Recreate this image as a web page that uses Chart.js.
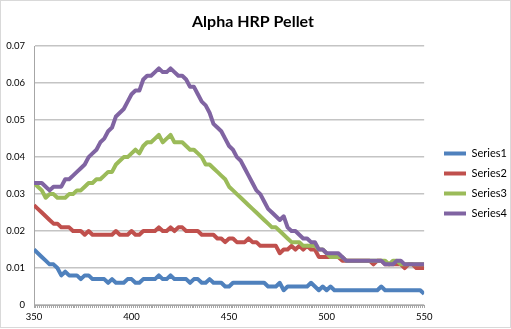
<!DOCTYPE html>
<html>
<head>
<meta charset="utf-8">
<title>Alpha HRP Pellet</title>
<script src="https://cdn.jsdelivr.net/npm/chart.js@4.4.0/dist/chart.umd.min.js"></script>
<style>
  html, body { margin: 0; padding: 0; background: #fff; }
  #Chart { display: block; }
</style>
</head>
<body>
<canvas id="Chart" width="511" height="329"></canvas>
<script>
// wavelength (nm), read every 2 nm
const wavelengths = [
  350, 352, 354, 356, 358, 360, 362, 364, 366, 368,
  370, 372, 374, 376, 378, 380, 382, 384, 386, 388,
  390, 392, 394, 396, 398, 400, 402, 404, 406, 408,
  410, 412, 414, 416, 418, 420, 422, 424, 426, 428,
  430, 432, 434, 436, 438, 440, 442, 444, 446, 448,
  450, 452, 454, 456, 458, 460, 462, 464, 466, 468,
  470, 472, 474, 476, 478, 480, 482, 484, 486, 488,
  490, 492, 494, 496, 498, 500, 502, 504, 506, 508,
  510, 512, 514, 516, 518, 520, 522, 524, 526, 528,
  530, 532, 534, 536, 538, 540, 542, 544, 546, 548,
  550
];

const series1 = [
  .015, .014, .013, .012, .011, .011, .010, .008, .009, .008,
  .008, .008, .007, .008, .008, .007, .007, .007, .007, .006,
  .007, .006, .006, .006, .007, .007, .006, .006, .007, .007,
  .007, .007, .008, .007, .007, .008, .007, .007, .007, .007,
  .006, .007, .007, .006, .006, .007, .006, .006, .006, .005,
  .005, .006, .006, .006, .006, .006, .006, .006, .006, .006,
  .005, .005, .005, .006, .004, .005, .005, .005, .005, .005,
  .005, .006, .005, .004, .005, .004, .005, .004, .004, .004,
  .004, .004, .004, .004, .004, .004, .004, .004, .004, .005,
  .004, .004, .004, .004, .004, .004, .004, .004, .004, .004,
  .003
];

const series2 = [
  .027, .026, .025, .024, .023, .022, .022, .021, .021, .021,
  .020, .020, .020, .019, .020, .019, .019, .019, .019, .019,
  .019, .020, .019, .019, .019, .020, .019, .019, .020, .020,
  .020, .020, .021, .020, .020, .021, .020, .021, .021, .020,
  .020, .020, .020, .019, .019, .019, .019, .018, .018, .017,
  .018, .018, .017, .017, .017, .018, .017, .017, .016, .016,
  .016, .016, .016, .014, .015, .015, .016, .015, .016, .015,
  .016, .015, .015, .013, .013, .013, .013, .013, .013, .012,
  .012, .012, .012, .012, .012, .012, .012, .011, .012, .012,
  .011, .011, .011, .011, .011, .010, .011, .011, .010, .010,
  .010
];

const series3 = [
  .033, .032, .031, .029, .030, .030, .029, .029, .029, .030,
  .030, .031, .031, .032, .033, .033, .034, .034, .035, .036,
  .036, .038, .039, .040, .040, .041, .042, .041, .043, .044,
  .044, .045, .046, .044, .045, .046, .044, .044, .044, .043,
  .042, .042, .041, .040, .038, .038, .037, .036, .035, .034,
  .032, .031, .030, .029, .028, .027, .026, .025, .024, .023,
  .022, .021, .021, .020, .019, .018, .017, .017, .017, .016,
  .016, .016, .016, .015, .015, .014, .013, .013, .013, .013,
  .012, .012, .012, .012, .012, .012, .012, .012, .012, .012,
  .012, .011, .012, .012, .011, .011, .011, .011, .011, .011,
  .011
];

const series4 = [
  .033, .033, .033, .032, .031, .032, .032, .032, .034, .034,
  .035, .036, .037, .038, .040, .041, .042, .044, .045, .047,
  .048, .051, .052, .053, .055, .057, .058, .058, .061, .062,
  .062, .063, .064, .063, .063, .064, .063, .062, .062, .061,
  .059, .059, .057, .055, .054, .052, .049, .048, .047, .045,
  .043, .042, .040, .039, .037, .035, .033, .031, .030, .028,
  .026, .025, .024, .023, .024, .021, .020, .020, .019, .018,
  .018, .017, .017, .015, .015, .014, .014, .014, .014, .013,
  .012, .012, .012, .012, .012, .012, .012, .012, .012, .012,
  .011, .011, .011, .012, .012, .011, .011, .011, .011, .011,
  .011
];

const seriesNames = ['Series1', 'Series2', 'Series3', 'Series4'];
const seriesColors = ['#4F81BD', '#C0504D', '#9BBB59', '#8064A2'];
const allSeries = [series1, series2, series3, series4];

const FONT = 'Lato, "Open Sans", sans-serif';

// white background + thin grey frame like the excel chart object
const frame = {
    id: 'frame',
    beforeDraw(chart) {
        const c = chart.ctx;
        c.save();
        c.fillStyle = '#fff';
        c.fillRect(0, 0, chart.width, chart.height);
        c.strokeStyle = '#d9d9d9';
        c.lineWidth = 1;
        c.strokeRect(0.5, 0.5, chart.width - 1, chart.height - 2);
        c.restore();
    }
};

// move legend column to where excel puts it
const legendShift = {
    id: 'legendShift',
    afterLayout(chart) {
        const lg = chart.legend;
        lg.left = 435;
        lg.right = 511;
        lg.top += 19;
        lg.bottom += 19;
    }
};

const datasets = allSeries.map((s, i) => ({
    label: seriesNames[i],
    data: wavelengths.map((w, j) => ({ x: w, y: s[j] })),
    borderColor: seriesColors[i],
    backgroundColor: seriesColors[i],
    borderWidth: 4,
    pointRadius: 0,
    tension: 0,
    fill: false,
    borderJoinStyle: 'round',
    order: 4 - i   // Series4 on top
}));

const ctx = document.getElementById('Chart').getContext('2d');

const myChart = new Chart(ctx, {
    type: 'line',
    data: { datasets: datasets },
    options: {
        responsive: false,
        animation: false,
        layout: { padding: { left: 0, right: 5, top: 0, bottom: 0 } },
        plugins: {
            title: {
                display: true,
                text: 'Alpha HRP Pellet',
                color: '#000',
                font: { family: FONT, size: 16, weight: 'bold' },
                padding: { top: 12, bottom: 15 }
            },
            legend: {
                position: 'right',
                labels: {
                    color: '#000',
                    font: { family: FONT, size: 11 },
                    usePointStyle: true,
                    pointStyle: 'line',
                    pointStyleWidth: 22,
                    padding: 9,
                    sort: (a, b) => a.datasetIndex - b.datasetIndex
                }
            },
            tooltip: { enabled: false }
        },
        scales: {
            x: {
                type: 'linear',
                min: 350,
                max: 550,
                afterFit: (scale) => { scale.height = 24; },
                ticks: {
                    stepSize: 1,
                    autoSkip: false,
                    maxRotation: 0,
                    padding: 3,
                    color: '#000',
                    font: { family: FONT, size: 9.5 },
                    callback: (v) => (v % 50 === 0 ? String(v) : '')
                },
                grid: {
                    drawOnChartArea: false,
                    drawTicks: true,
                    tickLength: 3,
                    color: '#a6a6a6'
                },
                border: { color: '#a6a6a6' }
            },
            y: {
                min: 0,
                max: 0.07,
                afterFit: (scale) => { scale.width = 34; },
                ticks: {
                    stepSize: 0.01,
                    padding: 9,
                    color: '#000',
                    font: { family: FONT, size: 9.5 },
                    callback: (v) => (v === 0 ? '0' : v.toFixed(2))
                },
                grid: {
                    color: '#c4c4c4',
                    lineWidth: 1.5,
                    drawTicks: false
                },
                border: { color: '#a6a6a6' }
            }
        }
    },
    plugins: [frame, legendShift]
});
</script>
</body>
</html>
